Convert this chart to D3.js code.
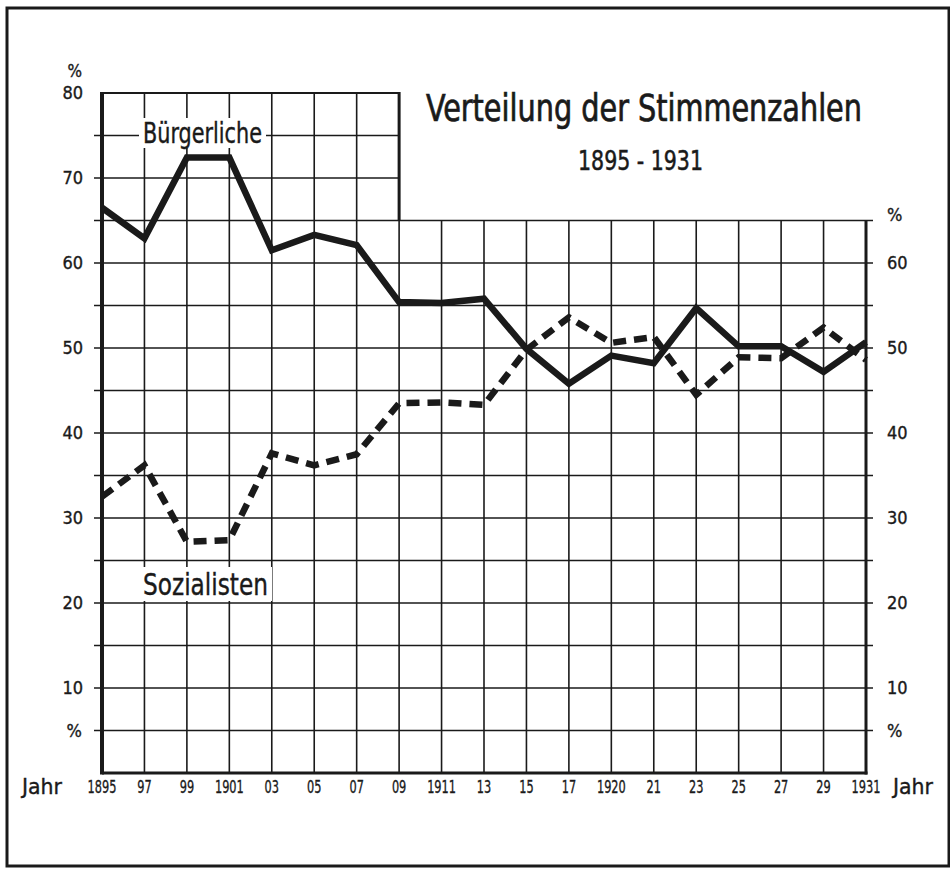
<!DOCTYPE html>
<html><head><meta charset="utf-8">
<script src="https://cdn.jsdelivr.net/npm/d3@7/dist/d3.min.js"></script>
<style>
html,body{margin:0;padding:0;background:#fff;}
svg text{font-family:"DejaVu Sans Condensed","DejaVu Sans",sans-serif;font-stretch:condensed;fill:#1a1a1a;}
</style></head>
<body>
<svg id="c" width="950" height="874"></svg>
<script>
const yearLabels = ["1895","97","99","1901","03","05","07","09","1911","13","15","17","1920","21","23","25","27","29","1931"];
const buergerliche = [66.5,62.9,72.4,72.4,61.5,63.3,62.1,55.4,55.3,55.8,49.9,45.8,49.1,48.2,54.7,50.2,50.2,47.2,50.7];
const sozialisten = [32.5,36.2,27.2,27.4,37.6,36.2,37.5,43.5,43.6,43.3,49.8,53.6,50.6,51.3,44.5,48.9,48.8,52.4,48.6];
const leftTicks = [10,20,30,40,50,60,70,80];
const rightTicks = [10,20,30,40,50,60];
const gridValues = [5,10,15,20,25,30,35,40,45,50,55,60,65,70,75];

const svg = d3.select("#c");
const ink = "#1a1a1a";
const x = d3.scalePoint().domain(yearLabels).range([102, 866]);
const y = d3.scaleLinear().domain([0, 80]).range([773, 93]);
const boxRightX = x("09");
const lowTop = 65;

// outer frame
svg.append("rect").attr("x", 7).attr("y", 8).attr("width", 942).attr("height", 858)
  .attr("fill", "none").attr("stroke", ink).attr("stroke-width", 3);

const g = svg.append("g");
// horizontal gridlines
gridValues.forEach(v => {
  const x2 = v > lowTop ? boxRightX : x("1931") + 7;
  g.append("line").attr("x1", x("1895") - 8).attr("x2", x2)
    .attr("y1", y(v)).attr("y2", y(v)).attr("stroke", ink).attr("stroke-width", 1.7);
});
// vertical gridlines
yearLabels.forEach((d, i) => {
  if (i === 0 || i === yearLabels.length - 1) return;
  const top = x(d) <= boxRightX ? y(80) : y(lowTop);
  g.append("line").attr("x1", x(d)).attr("x2", x(d)).attr("y1", top).attr("y2", y(0))
    .attr("stroke", ink).attr("stroke-width", 1.6);
});
// frame lines
g.append("line").attr("x1", x("1895")).attr("x2", boxRightX).attr("y1", y(80)).attr("y2", y(80)).attr("stroke", ink).attr("stroke-width", 2);
g.append("line").attr("x1", boxRightX).attr("x2", boxRightX).attr("y1", y(80)-1).attr("y2", y(lowTop)).attr("stroke", ink).attr("stroke-width", 3);
g.append("line").attr("x1", x("1895")).attr("x2", x("1895")).attr("y1", y(80)-1).attr("y2", y(0)+1.5).attr("stroke", ink).attr("stroke-width", 4);
g.append("line").attr("x1", x("1931")).attr("x2", x("1931")).attr("y1", y(lowTop)).attr("y2", y(0)+1.5).attr("stroke", ink).attr("stroke-width", 3);
g.append("line").attr("x1", x("1895")).attr("x2", x("1931")+1.5).attr("y1", y(0)).attr("y2", y(0)).attr("stroke", ink).attr("stroke-width", 3);

// axis labels
const fs = 18;
function txt(xx, yy, s, size, anchor) {
  return svg.append("text").attr("x", xx).attr("y", yy).attr("dy", "0.36em").attr("text-anchor", anchor || "start")
    .attr("font-size", size).attr("stroke", ink).attr("stroke-width", 0.35).text(s);
}
leftTicks.forEach(v => txt(83, y(v), v, fs, "end"));
rightTicks.forEach(v => txt(887, y(v), v, fs, "start"));
txt(82, y(80) - 22, "%", 17, "end");
txt(82, y(5), "%", 18, "end");
txt(887, y(lowTop) - 6, "%", 18, "start");
txt(887, y(5), "%", 18, "start");
yearLabels.forEach(d => {
  txt(x(d), 787, d, 18, "middle").attr("textLength", d.length * 7.2).attr("lengthAdjust", "spacingAndGlyphs");
});
txt(22, 786, "Jahr", 21).attr("textLength", 40).attr("lengthAdjust", "spacingAndGlyphs");
txt(893, 786, "Jahr", 21).attr("textLength", 40).attr("lengthAdjust", "spacingAndGlyphs");

// title
svg.append("text").attr("x", 426).attr("y", 121).attr("font-size", 37).attr("textLength", 436)
  .attr("lengthAdjust", "spacingAndGlyphs").attr("stroke", ink).attr("stroke-width", 0.7)
  .text("Verteilung der Stimmenzahlen");
svg.append("text").attr("x", 578).attr("y", 170).attr("font-size", 27).attr("textLength", 125)
  .attr("lengthAdjust", "spacingAndGlyphs").attr("stroke", ink).attr("stroke-width", 0.5).text("1895 - 1931");

// series labels with white background
function label(s, cx, cy, w, h, size) {
  svg.append("rect").attr("x", cx - 4).attr("y", cy - h / 2).attr("width", w + 8).attr("height", h).attr("fill", "#fff");
  svg.append("text").attr("x", cx).attr("y", cy).attr("dy", "0.36em").attr("font-size", size)
    .attr("stroke", ink).attr("stroke-width", 0.4)
    .attr("textLength", w).attr("lengthAdjust", "spacingAndGlyphs").text(s);
}
label("Bürgerliche", 143, 133, 119, 30, 29);
label("Sozialisten", 143, 584, 125, 34, 31);

// data lines
const line = d3.line().x((d, i) => x(yearLabels[i])).y(d => y(d));
svg.append("path").datum(buergerliche).attr("d", line).attr("fill", "none").attr("stroke", ink)
  .attr("stroke-width", 6.5).attr("stroke-linejoin", "miter");
svg.append("path").datum(sozialisten).attr("d", line).attr("fill", "none").attr("stroke", ink)
  .attr("stroke-width", 6.5).attr("stroke-dasharray", "13,8").attr("stroke-linejoin", "miter");
</script>
</body></html>
